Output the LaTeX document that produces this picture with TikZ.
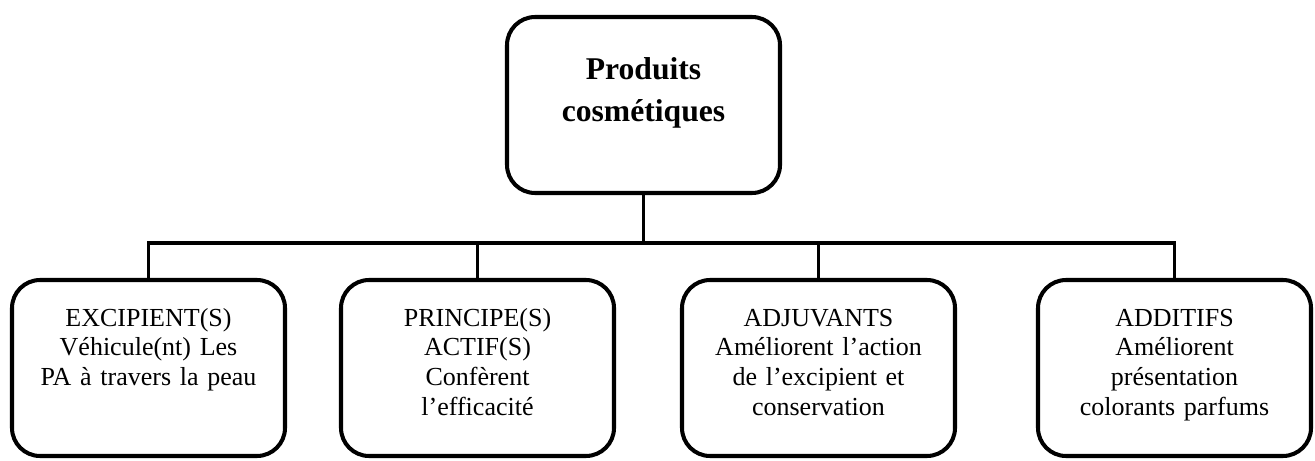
\documentclass[tikz,border=0pt]{standalone}
\usepackage{fontspec}
\setmainfont{Liberation Serif}
\usepackage{tikz}
\usetikzlibrary{positioning, calc}
\tikzset{
  bloc/.style={
    draw=black, fill=white, line width=2.3pt, rounded corners=16pt,
    align=center, inner xsep=0.1cm, inner ysep=0pt, text width=5.26cm,
    text height=0.92cm, text depth=2.6cm,
    font=\fontsize{14.8}{17}\selectfont
  },
  titre/.style={
    bloc, text height=1.26cm, text depth=2.26cm,
    font=\fontsize{18}{23.8}\selectfont\bfseries
  },
  lien/.style={line width=2.1pt, draw=black}
}

\begin{document}
\begin{tikzpicture}
  \useasboundingbox (0,0) rectangle (26.3,9.2);
  \node[titre] (prod) at (12.87,7.1) {Produits\\cosmétiques};
  \node[bloc] (excip) at (2.97,1.84) {EXCIPIENT(S)\\Véhicule(nt) Les\\PA à travers la peau};
  \node[bloc] (princ) at (9.55,1.84) {PRINCIPE(S)\\ACTIF(S)\\Confèrent\\l’efficacité};
  \node[bloc] (adjuv) at (16.37,1.84) {ADJUVANTS\\Améliorent l’action\\de l’excipient et\\conservation};
  \node[bloc] (addit) at (23.49,1.84) {ADDITIFS\\Améliorent\\présentation\\colorants parfums};
  % arbre
  \coordinate (jonction) at ($(prod.south)+(0,-0.96)$);
  \draw[lien] (prod.south) -- (jonction);
  \draw[lien] (jonction) -| (excip.north);
  \draw[lien] (jonction) -| (princ.north);
  \draw[lien] (jonction) -| (adjuv.north);
  \draw[lien] (jonction) -| (addit.north);
\end{tikzpicture}
\end{document}
